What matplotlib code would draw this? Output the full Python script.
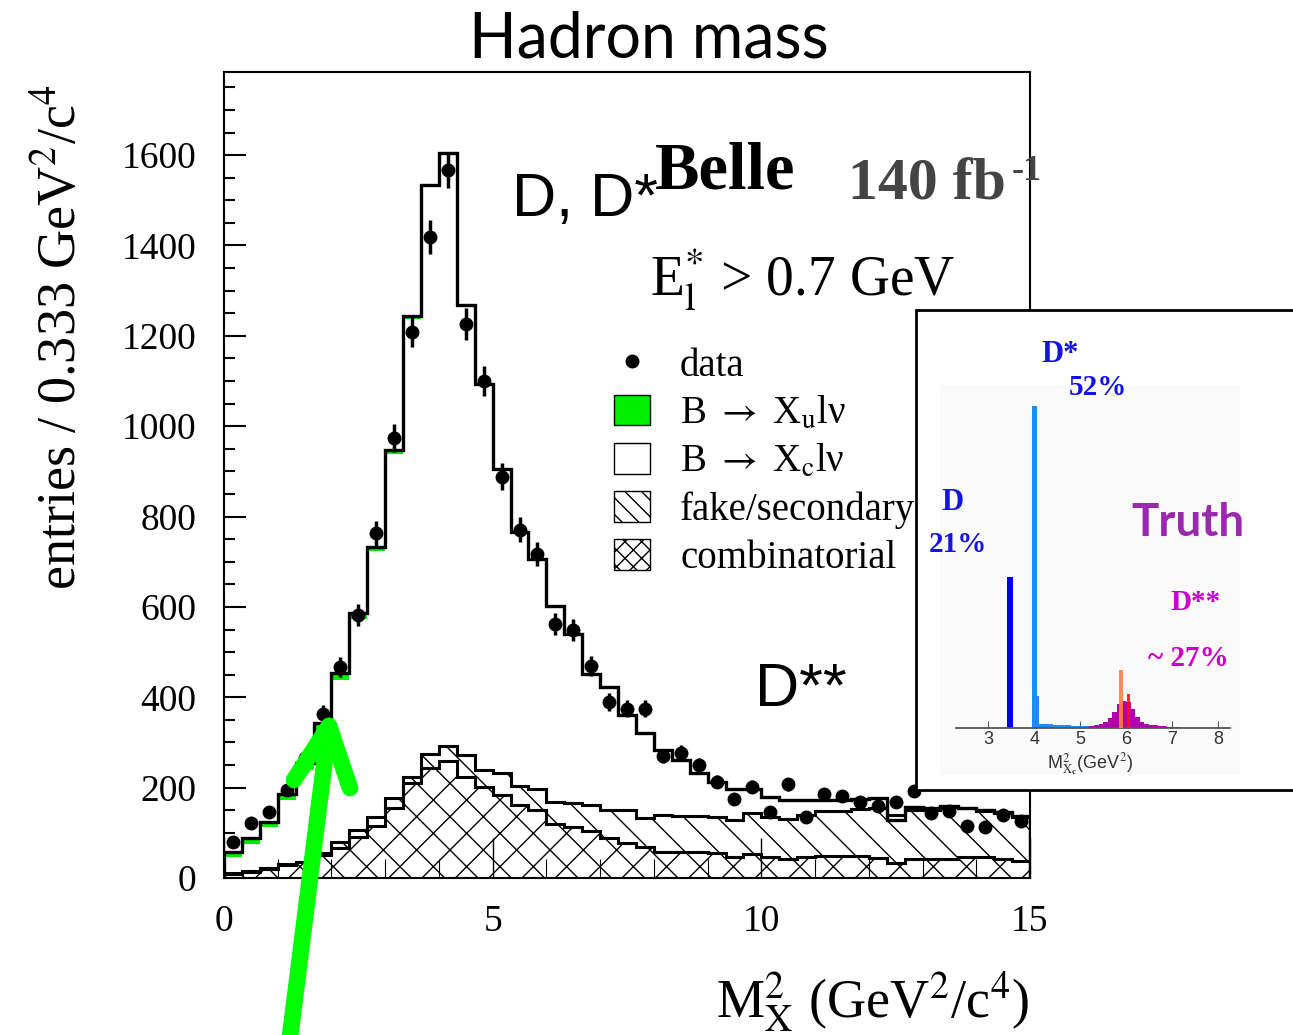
import numpy as np
import matplotlib
matplotlib.use('Agg')
import matplotlib.pyplot as plt
from matplotlib.patches import Rectangle, Patch
from matplotlib.lines import Line2D

plt.rcParams['font.family'] = ['Liberation Serif', 'DejaVu Serif']
plt.rcParams['mathtext.fontset'] = 'stix'
plt.rcParams['hatch.linewidth'] = 1.0
plt.rcParams['hatch.color'] = 'black'

# --- main histogram: 45 bins of 1/3 GeV^2/c^4 between 0 and 15
edges = np.linspace(0, 15, 46)
centers = 0.5 * (edges[:-1] + edges[1:])

data = [79, 121, 147, 195, 265, 364, 467, 583, 763, 973,
        1209, 1419, 1567, 1226, 1100, 888, 771, 718, 562, 549,
        469, 390, 375, 375, 270, 277, 250, 213, 174, 202,
        147, 208, 134, 185, 181, 168, 160, 168, 193, 144,
        149, 115, 112, 139, 127]

# fitted sum of all components
total = [58, 88, 125, 187, 254, 342, 453, 586, 733, 947,
         1243, 1534, 1605, 1269, 1094, 906, 766, 705, 602, 541,
         452, 423, 361, 320, 283, 261, 232, 213, 198, 198,
         180, 173, 173, 173, 173, 174, 178, 128, 158, 156,
         160, 156, 150, 146, 137]

comb = [8, 14, 21, 29, 35, 52, 66, 90, 115, 156,
        210, 244, 258, 224, 202, 183, 162, 150, 120, 112,
        104, 88, 77, 69, 58, 58, 58, 56, 46, 53,
        47, 43, 46, 49, 49, 48, 45, 33, 41, 43,
        43, 46, 47, 42, 38]

fake = [2, 1, 1, 1, 1, 3, 14, 16, 20, 20,
        14, 31, 34, 48, 37, 49, 42, 48, 48, 54,
        58, 63, 73, 63, 81, 79, 79, 78, 82, 90,
        87, 87, 94, 100, 100, 104, 109, 107, 109, 107,
        115, 108, 102, 101, 96]

xu = [12, 12, 12, 14, 14, 14, 14, 12, 10, 8,
      6, 4, 4, 0, 0, 0, 0, 0, 0, 0,
      0, 0, 0, 0, 0, 0, 0, 0, 0, 0,
      0, 0, 0, 0, 0, 0, 0, 0, 0, 0,
      0, 0, 0, 0, 0]

# --- inset (truth level M_Xc^2)
truth_x = [3.47, 4.01, 4.085]
truth_h = [0.47, 1.0, 0.10]
truth_w = [0.12, 0.11, 0.05]
truth_c = ['#0000e8', '#1e8cff', '#1e8cff']
tail_edges = [4.11, 4.4, 4.8, 5.2]
tail_h = [0.012, 0.008, 0.006]
dss_edges = [5.2, 5.3, 5.4, 5.5, 5.6, 5.7, 5.8, 5.9, 6.0, 6.1, 6.2,
             6.3, 6.4, 6.5, 6.6, 6.7, 6.8, 6.9, 7.0, 7.1, 7.2]
dss_h = [0.005, 0.008, 0.012, 0.018, 0.03, 0.05, 0.075, 0.085, 0.08, 0.06,
         0.035, 0.02, 0.012, 0.01, 0.008, 0.006, 0.005, 0.004, 0.004, 0.003]
peak_x = [5.89, 6.05]
peak_h = [0.18, 0.105]
peak_c = ['#ff8040', '#ff1010']

W, H = 1293, 1035
def fx(px):
    return px / W
def fy(py):
    return 1 - py / H

fig = plt.figure(figsize=(W / 100, H / 100), dpi=100)
ax = fig.add_axes([fx(224), fy(878), fx(1030) - fx(224), fy(72) - fy(878)])

comb = np.array(comb)
fake = np.array(fake)
xu = np.array(xu)
total = np.array(total)
fake_top = comb + fake

ax.stairs(comb, edges, baseline=0, fill=True, facecolor='white',
          edgecolor='black', hatch='x', linewidth=0, zorder=1)
ax.stairs(fake_top, edges, baseline=comb, fill=True, facecolor='white',
          edgecolor='black', hatch='\\', linewidth=0, zorder=1)
ax.stairs(total, edges, baseline=total - xu, fill=True, color='#00ee00',
          linewidth=0, zorder=2)
ax.stairs(comb, edges, color='black', lw=2.2, zorder=3)
ax.stairs(fake_top, edges, color='black', lw=2.2, zorder=3)
ax.stairs(total, edges, color='black', lw=2.4, zorder=3)

data = np.array(data)
ax.errorbar(centers, data, yerr=np.sqrt(data), fmt='o', color='black',
            ms=9, elinewidth=2.5, capsize=0, zorder=4)

ax.set_xlim(0, 15)
ax.set_ylim(0, 1784)
ax.set_xticks([0, 5, 10, 15])
ax.set_xticks(np.arange(0, 16), minor=True)
ax.set_yticks(np.arange(0, 1601, 200))
ax.set_yticks(np.arange(0, 1751, 50), minor=True)
ax.tick_params(axis='both', which='both', direction='in', top=False, right=False)
ax.tick_params(axis='x', which='major', length=29, width=1.0, labelsize=27, pad=19)
ax.tick_params(axis='x', which='minor', length=14, width=0.8)
ax.tick_params(axis='y', which='major', length=16, width=1.5, labelsize=27, pad=20)
ax.tick_params(axis='y', which='minor', length=8, width=1.5)
for s in ax.spines.values():
    s.set_linewidth(1.5)

handles = [Line2D([], [], marker='o', ls='none', color='black', ms=9),
           Patch(facecolor='#00ee00', edgecolor='black', lw=1),
           Patch(facecolor='white', edgecolor='black', lw=1),
           Patch(facecolor='white', edgecolor='black', hatch='\\\\', lw=1),
           Patch(facecolor='white', edgecolor='black', hatch='xx', lw=1)]
labels = ['data', r'B $\rightarrow$ X$_{\rm u}$lν', r'B $\rightarrow$ X$_{\rm c}$lν',
          'fake/secondary', 'combinatorial']
ax.legend(handles, labels, loc='upper left', bbox_to_anchor=(fx(614), fy(347)),
          bbox_transform=fig.transFigure, frameon=False, fontsize=28,
          handlelength=0.93, handleheight=0.82, handletextpad=0.77,
          labelspacing=0.27, borderpad=0, borderaxespad=0)

# labels and annotations
fig.text(fx(649), fy(40), 'Hadron mass', family='Lato', fontsize=45,
         ha='center', va='center')
fig.text(fx(62), fy(337), r'entries / 0.333 GeV$^2$/c$^4$', fontsize=39,
         rotation=90, ha='center', va='center')
fig.text(fx(1030), fy(1002), r'M$^2_{\rm X}$ (GeV$^2$/c$^4$)', fontsize=39,
         ha='right', va='center')
fig.text(fx(512), fy(200), 'D, D*', family='Liberation Sans', fontsize=44,
         ha='left', va='center')
fig.text(fx(755), fy(690), 'D**', family='Liberation Sans', fontsize=44,
         ha='left', va='center')
fig.text(fx(655), fy(172), 'Belle', fontsize=48, fontweight='bold',
         ha='left', va='center')
fig.text(fx(848), fy(186), '140 fb', fontsize=43, fontweight='bold',
         color='#444444', ha='left', va='center')
fig.text(fx(1012), fy(172), '-1', fontsize=26, fontweight='bold',
         color='#444444', ha='left', va='center')
fig.text(fx(650), fy(280), r'E$^{*}_{\rm l}$ > 0.7 GeV', fontsize=40,
         ha='left', va='center')

# inset box
fig.add_artist(Rectangle((fx(916), fy(790)), 0.4, fy(310) - fy(790),
                         transform=fig.transFigure, facecolor='white',
                         edgecolor='black', lw=2, zorder=5))
fig.add_artist(Rectangle((fx(940), fy(775)), fx(1240) - fx(940), fy(385) - fy(775),
                         transform=fig.transFigure, facecolor='#fafafa',
                         edgecolor='none', zorder=5))
axi = fig.add_axes([fx(956), fy(728), fx(1230) - fx(956), fy(385) - fy(728)],
                   zorder=6)
axi.patch.set_alpha(0)
axi.bar(truth_x, truth_h, width=truth_w, color=truth_c, zorder=2)
axi.stairs(tail_h, tail_edges, fill=True, color='#1e8cff', zorder=2)
axi.stairs(dss_h, dss_edges, fill=True, color='#b000b0', zorder=2)
axi.bar(peak_x, peak_h, width=[0.1, 0.08], color=peak_c, alpha=0.9, zorder=3)
axi.set_xlim(2.3, 8.26)
axi.set_ylim(0, 1.065)
axi.set_xticks([3, 4, 5, 6, 7, 8])
axi.set_yticks([])
for k in ['left', 'right', 'top']:
    axi.spines[k].set_visible(False)
axi.spines['bottom'].set_color('#555555')
axi.spines['bottom'].set_linewidth(1.3)
axi.tick_params(axis='x', direction='in', length=5, color='#555555',
                labelsize=13, pad=2, labelcolor='#333333')
for t in axi.get_xticklabels():
    t.set_family('Liberation Sans')
fig.text(fx(1090), fy(765), r'M$^{2}_{\rm X_{\bf c}}$(GeV$^{2}$)', fontsize=13,
         family='Liberation Sans', color='#333333', ha='center', va='center', zorder=7)

blue = '#1414e6'
mag = '#cc00cc'
fig.text(fx(1060), fy(355), 'D*', fontsize=22, fontweight='bold', color=blue,
         ha='center', va='center', zorder=7)
fig.text(fx(1098), fy(387), '52%', fontsize=21, fontweight='bold', color=blue,
         ha='center', va='center', zorder=7)
fig.text(fx(952), fy(502), 'D', fontsize=22, fontweight='bold', color=blue,
         ha='center', va='center', zorder=7)
fig.text(fx(958), fy(545), '21%', fontsize=21, fontweight='bold', color=blue,
         ha='center', va='center', zorder=7)
fig.text(fx(1188), fy(523), 'Truth', family='Lato', fontsize=33, fontweight='bold',
         color='#9b28af', ha='center', va='center', zorder=7)
fig.text(fx(1196), fy(602), 'D**', fontsize=21, fontweight='bold', color=mag,
         ha='center', va='center', zorder=7)
fig.text(fx(1188), fy(658), '~ 27%', fontsize=21, fontweight='bold', color=mag,
         ha='center', va='center', zorder=7)

# green arrow
arrow_kw = dict(transform=fig.transFigure, color='#00ff00', lw=12,
                solid_capstyle='round', zorder=8)
fig.add_artist(Line2D([fx(289), fx(329)], [fy(1045), fy(726)], **arrow_kw))
fig.add_artist(Line2D([fx(294), fx(329), fx(350)], [fy(780), fy(726), fy(788)],
                      solid_joinstyle='round', **arrow_kw))

fig.savefig('out.png', dpi=100)
